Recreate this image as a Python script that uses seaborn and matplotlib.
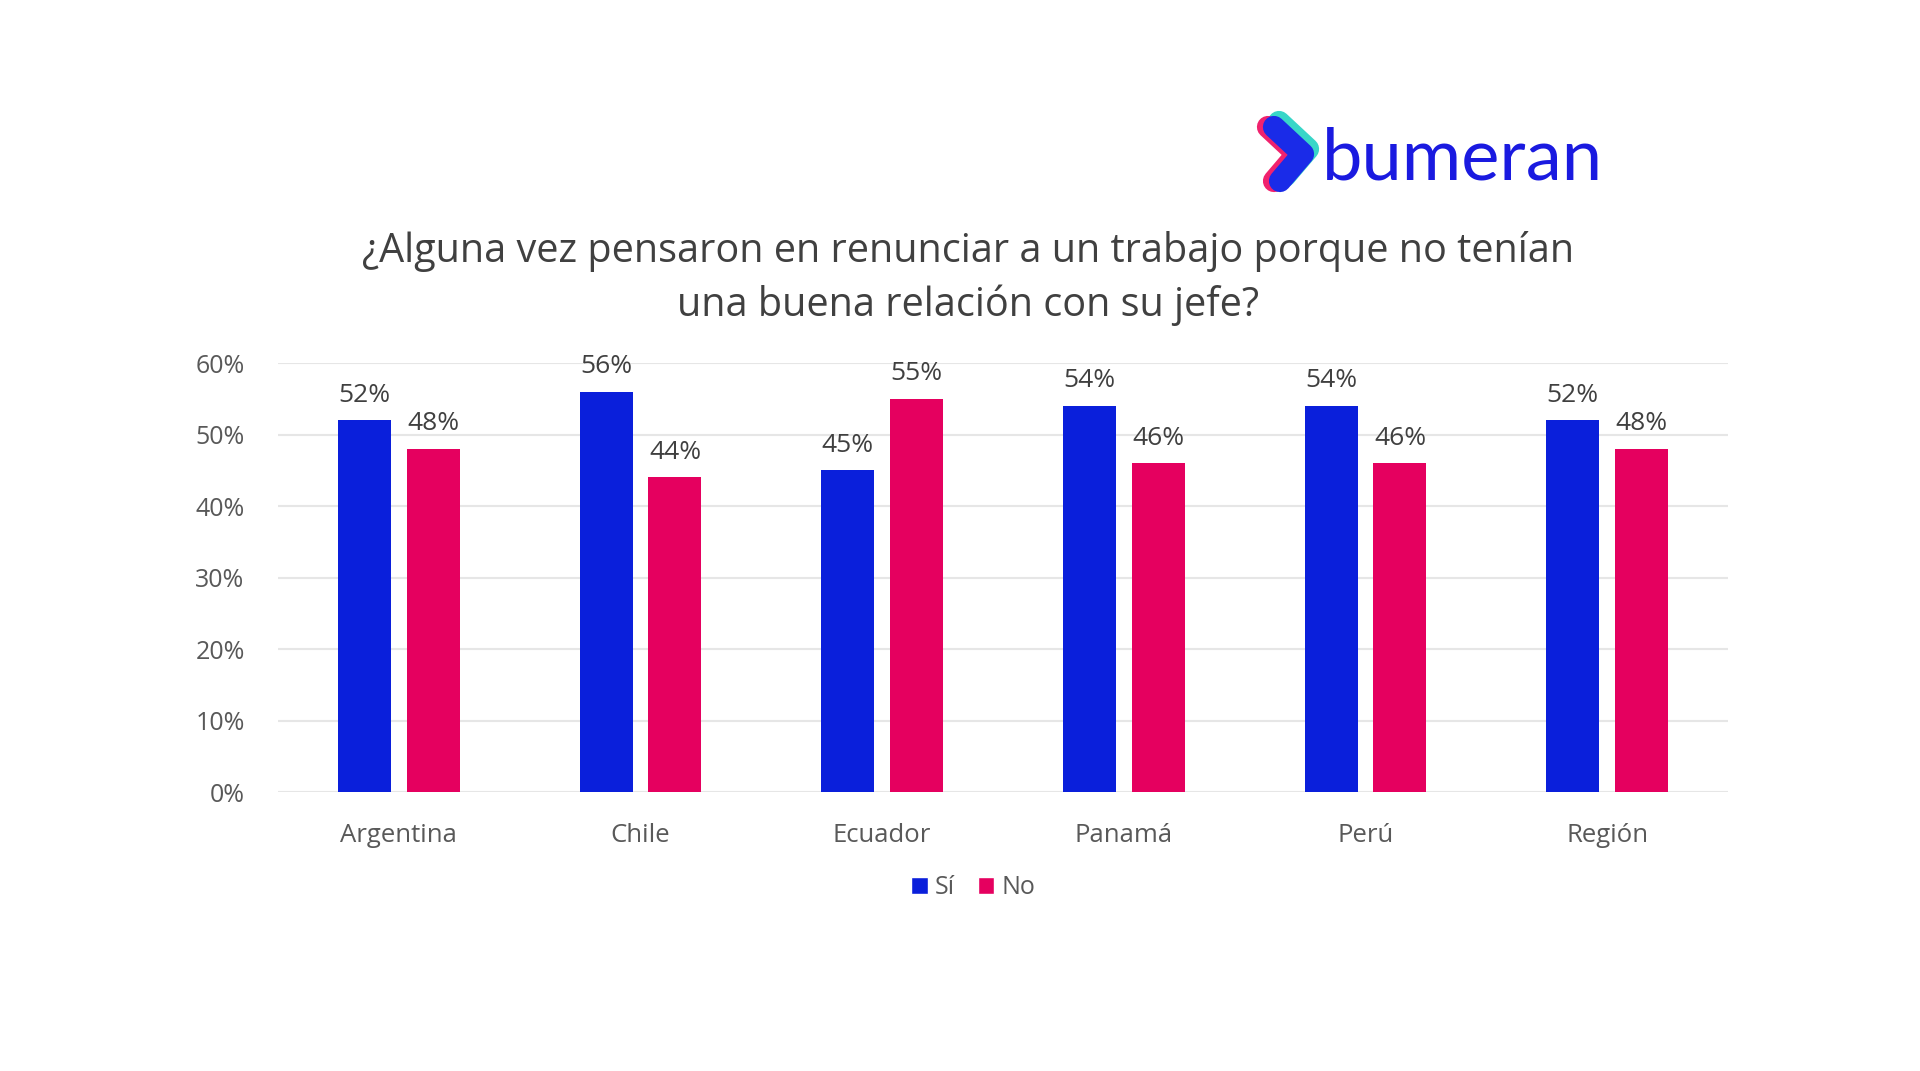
import matplotlib
matplotlib.use("Agg")
import matplotlib.pyplot as plt
import seaborn as sns
import pandas as pd
from matplotlib.lines import Line2D
from matplotlib.patches import Patch

categories = ["Argentina", "Chile", "Ecuador", "Panamá", "Perú", "Región"]
si_values = [52, 56, 45, 54, 54, 52]
no_values = [48, 44, 55, 46, 46, 48]
series = ["Sí", "No"]
yticks = [0, 10, 20, 30, 40, 50, 60]

BLUE = "#0A1FDB"
PINK = "#E5005F"
FONT = ["Open Sans", "DejaVu Sans"]

df = pd.DataFrame({
    "cat": categories * 2,
    "serie": ["Sí"] * len(categories) + ["No"] * len(categories),
    "val": si_values + no_values,
})

sns.set_theme(style="white")
plt.rcParams["font.family"] = FONT

fig = plt.figure(figsize=(19.2, 10.71), dpi=100)
ax = fig.add_axes([0.1448, 0.2605, 0.9 - 0.1448, 0.661 - 0.2605])

sns.barplot(data=df, x="cat", y="val", hue="serie", hue_order=series,
            palette=[BLUE, PINK], width=0.57, gap=0.23, ax=ax,
            legend=False, saturation=1, edgecolor="none")

for cont in ax.containers:
    ax.bar_label(cont, labels=[f"{v:.0f}%" for v in cont.datavalues],
                 padding=9, fontsize=19, color="#404040", family=FONT)

ax.set_xlim(-0.5, len(categories) - 0.5)
ax.set_ylim(0, 60)
ax.set_yticks(yticks)
ax.set_yticklabels([f"{t}%" for t in yticks])
ax.tick_params(axis="y", labelsize=18, labelcolor="#595959", length=0, pad=24)
ax.tick_params(axis="x", labelsize=18.5, labelcolor="#595959", length=0, pad=22)
ax.set_xlabel("")
ax.set_ylabel("")
ax.yaxis.grid(True, color="#E6E6E6", linewidth=1.5)
ax.set_axisbelow(True)
for s in ax.spines.values():
    s.set_visible(False)

# title
fig.text(0.504, 0.740, "¿Alguna vez pensaron en renunciar a un trabajo porque no tenían\nuna buena relación con su jefe?",
         ha="center", va="center", fontsize=28.5, color="#404040",
         linespacing=1.42, family=FONT)

# legend
handles = [Patch(facecolor=BLUE, label="Sí"), Patch(facecolor=PINK, label="No")]
fig.legend(handles=handles, loc="center", bbox_to_anchor=(0.507, 0.171), ncol=2,
           frameon=False, handlelength=0.65, handleheight=0.65,
           handletextpad=0.3, columnspacing=0.9, labelcolor="#595959",
           prop={"family": FONT, "size": 18})

# logo
def fx(x):
    return x / 1920
def fy(y):
    return 1 - y / 1071

def chevron(dx, dy, color, lw):
    xs = [fx(1272 + dx), fx(1301 + dx), fx(1278 + dx)]
    ys = [fy(127 + dy), fy(154 + dy), fy(181 + dy)]
    fig.add_artist(Line2D(xs, ys, color=color, linewidth=lw,
                          solid_capstyle="round", solid_joinstyle="round"))

chevron(7, -5, "#38D6C8", 16)
chevron(-4, 0, "#F0226E", 16)
chevron(2, 0, "#1A2BE8", 16)

fig.text(fx(1322), fy(179), "bumeran", ha="left", va="baseline",
         fontsize=52, color="#1A1AE0", family=["Lato", "DejaVu Sans"])

fig.savefig("out.png", dpi=100, facecolor="white")
